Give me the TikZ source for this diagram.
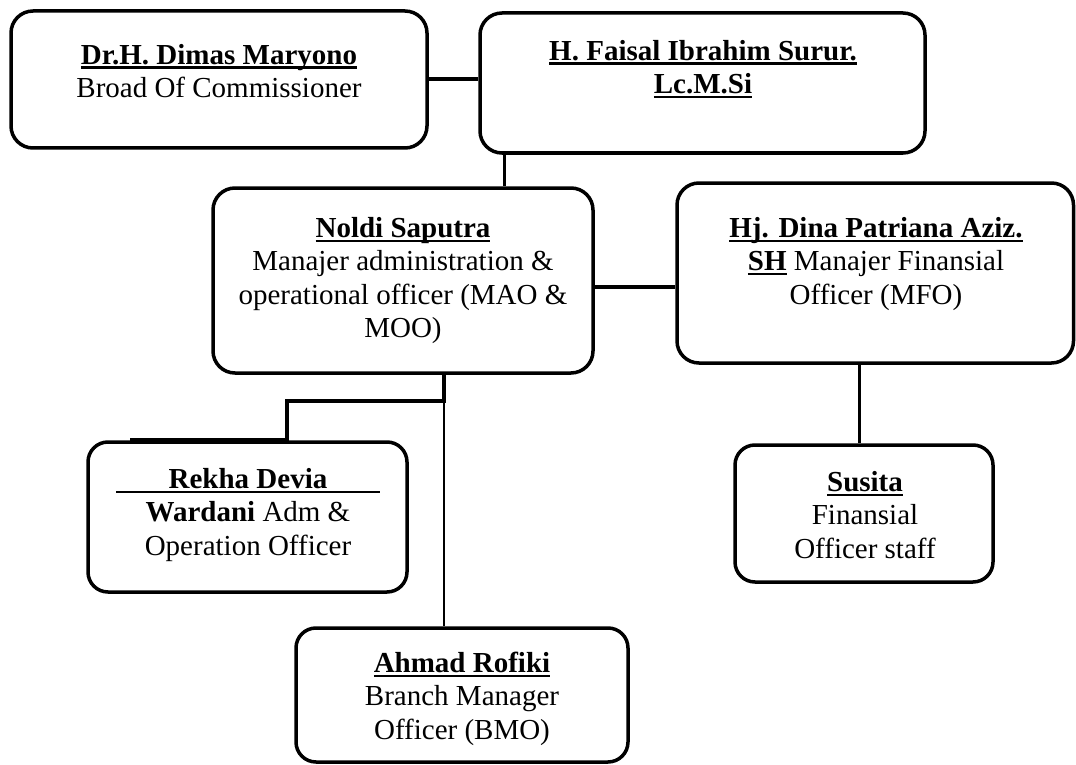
\documentclass[tikz,border=0pt]{standalone}
\usepackage{fontspec}
\setmainfont{Liberation Serif}
\newsavebox\ulbox
\newcommand\myul[1]{\sbox\ulbox{#1}\rlap{\rule[-4.5pt]{\wd\ulbox}{2.2pt}}\usebox\ulbox}
\newcommand\fl{\rule{0pt}{24pt}}
\begin{document}
\begin{tikzpicture}[x=1pt,y=-1pt,
  box/.style={draw=black, line width=3.5pt, rounded corners=22pt, inner sep=0pt, fill=none},
  txt/.style={inner sep=0pt, align=center, anchor=north, font=\fontsize{29}{33.5}\selectfont},
  conn/.style={draw=black, line width=3.5pt},
  thinconn/.style={draw=black, line width=2.5pt}]
\useasboundingbox (0,0) rectangle (1076,765);
% boxes
\node[box, minimum width=416pt, minimum height=137pt] (b1) at (219,79.5) {};
\node[box, minimum width=445pt, minimum height=140pt] (b2) at (702.5,83) {};
\node[box, minimum width=380pt, minimum height=185pt] (noldi) at (403,280.5) {};
\node[box, minimum width=396.5pt, minimum height=180pt] (dina) at (875.25,273) {};
\node[box, rounded corners=20pt, minimum width=319pt, minimum height=150pt] (rekha) at (247.5,517) {};
\node[box, rounded corners=20pt, minimum width=258pt, minimum height=137pt] (susita) at (864,513.5) {};
\node[box, rounded corners=20pt, minimum width=332pt, minimum height=134pt] (ahmad) at (462,695) {};
% texts
\node[txt] (t1) at (219,40) {\fl\myul{\textbf{Dr.H. Dimas Maryono}}\\Broad Of Commissioner};
\node[txt] (t2) at (703,36) {\fl\myul{\textbf{H. Faisal Ibrahim Surur.}}\\\myul{\textbf{Lc.M.Si}}};
\node[txt] (t3) at (403,213) {\fl\myul{\textbf{Noldi Saputra}}\\Manajer administration \&\\operational officer (MAO \&\\MOO)};
\node[txt] (t4) at (876,213) {\fl\myul{\textbf{Hj. Dina Patriana Aziz.}}\\\myul{\textbf{SH}} Manajer Finansial\\Officer (MFO)};
\node[txt] (t5) at (248,464) {\fl\myul{\makebox[264pt]{\textbf{Rekha Devia}}}\\\textbf{Wardani} Adm \&\\Operation Officer};
\node[txt] (t6) at (865,467) {\fl\myul{\textbf{Susita}}\\Finansial\\Officer staff};
\node[txt] (t7) at (462,648) {\fl\myul{\textbf{Ahmad Rofiki}}\\Branch Manager\\Officer (BMO)};
% connectors
\draw[conn] ([yshift=0.5pt]b1.east) -- ([yshift=0.5pt]b1.east -| b2.west);
\draw[conn] ([xshift=26pt]b2.south west) -- ([xshift=26pt]b2.south west |- noldi.north);
\draw[conn] ([yshift=-6.5pt]noldi.east) -- ([yshift=-6.5pt]noldi.east -| dina.west);
\coordinate (j) at ([xshift=41pt]noldi.south |- 0,401);
\coordinate (k) at ([xshift=-116pt]noldi.south |- 0,401);
\coordinate (r) at ([xshift=44pt]rekha.north west);
\draw[conn] ([xshift=41pt]noldi.south) -- (j) -- (k) -- ([yshift=0.5pt]k |- rekha.north) -- ([yshift=0.5pt]r);
\draw[thinconn] (j) -- (j |- ahmad.north);
\draw[conn] ([xshift=-16pt]dina.south) -- ([xshift=-16pt]dina.south |- susita.north);
\end{tikzpicture}
\end{document}
